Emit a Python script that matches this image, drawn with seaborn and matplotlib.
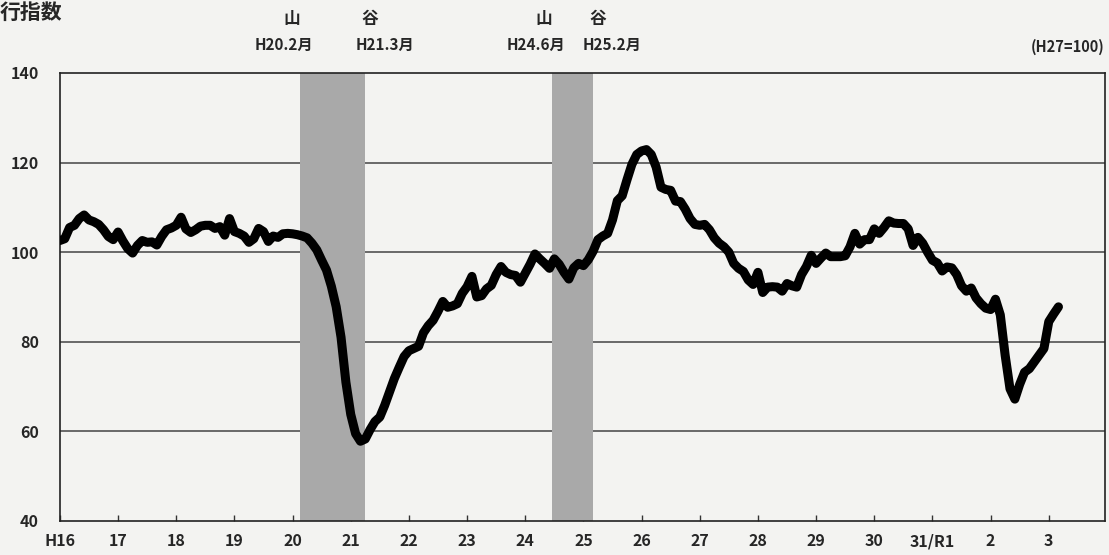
import numpy as np
import pandas as pd
import matplotlib
matplotlib.use("Agg")
from matplotlib import pyplot as plt
import seaborn as sns

# monthly leading index, H16.1 - R3.3 (H27=100)
h16 = [102.6, 103.0, 105.5, 106.0, 107.5, 108.3, 107.2, 106.8, 106.2, 105.0, 103.5, 102.8]
h17 = [104.5, 102.5, 100.8, 99.8, 101.5, 102.6, 102.2, 102.3, 101.6, 103.5, 105.0, 105.4]
h18 = [106.0, 107.8, 105.2, 104.4, 105.0, 105.8, 106.0, 106.0, 105.3, 105.7, 103.8, 107.5]
h19 = [104.6, 104.2, 103.6, 102.2, 103.0, 105.3, 104.6, 102.4, 103.6, 103.3, 104.1, 104.2]
h20 = [104.1, 103.9, 103.6, 103.2, 102.0, 100.5, 98.2, 96.0, 92.4, 87.8, 81.0, 71.0]
h21 = [63.8, 59.5, 57.8, 58.3, 60.4, 62.2, 63.2, 65.8, 68.8, 71.8, 74.3, 76.7]
h22 = [78.0, 78.5, 79.0, 82.0, 83.6, 84.8, 86.8, 89.0, 87.7, 88.0, 88.5, 90.8]
h23 = [92.3, 94.6, 90.0, 90.3, 91.8, 92.6, 95.0, 96.8, 95.5, 95.0, 94.8, 93.3]
h24 = [95.3, 97.3, 99.6, 98.5, 97.5, 96.4, 98.5, 97.3, 95.5, 94.0, 96.5, 97.5]
h25 = [97.0, 98.3, 100.2, 102.8, 103.6, 104.2, 107.2, 111.5, 112.6, 116.2, 119.6, 121.8]
h26 = [122.6, 122.9, 121.8, 119.0, 114.5, 114.0, 113.8, 111.4, 111.3, 109.6, 107.5, 106.2]
h27 = [106.0, 106.2, 105.0, 103.2, 102.0, 101.2, 100.0, 97.5, 96.4, 95.7, 93.8, 92.8]
h28 = [95.5, 91.0, 92.2, 92.3, 92.2, 91.3, 93.0, 92.5, 92.2, 95.0, 96.8, 99.3]
h29 = [97.5, 98.7, 99.8, 99.0, 99.0, 99.0, 99.2, 101.2, 104.2, 101.8, 102.8, 102.8]
h30 = [105.2, 104.2, 105.5, 107.0, 106.5, 106.4, 106.4, 105.2, 101.5, 103.3, 102.0, 100.0]
r1 = [98.2, 97.6, 95.8, 96.7, 96.5, 95.0, 92.5, 91.3, 92.0, 89.8, 88.5, 87.5]
r2 = [87.2, 89.5, 86.0, 77.0, 69.5, 67.2, 70.5, 73.2, 74.0, 75.5, 77.0, 78.5]
r3 = [84.5, 86.2, 87.8]

values = h16 + h17 + h18 + h19 + h20 + h21 + h22 + h23 + h24 + h25 + h26 + h27 + h28 + h29 + h30 + r1 + r2 + r3
df = pd.DataFrame({"month": np.arange(len(values)), "index": values})

year_labels = ["H16", "17", "18", "19", "20", "21", "22", "23", "24", "25",
               "26", "27", "28", "29", "30", "31/R1", "2", "3"]

# recessions: (peak month, trough month) as month offsets from H16.1
peaks = [49, 101]
troughs = [62, 109]
peak_labels = ["H20.2月", "H24.6月"]
trough_labels = ["H21.3月", "H25.2月"]

paper = "#f3f3f1"
sns.set_theme(style="white")
plt.rcParams["font.family"] = ["Noto Sans CJK JP", "DejaVu Sans"]
plt.rcParams["font.weight"] = "bold"

fig = plt.figure(figsize=(11.09, 5.55), dpi=100, facecolor=paper)
ax = fig.add_axes([0.054, 0.0613, 0.9424, 0.8072])
ax.set_facecolor(paper)

for g in [60, 80, 100, 120]:
    ax.axhline(g, color="#444444", lw=1.1, zorder=1)

for p, t in zip(peaks, troughs):
    ax.axvspan(p + 0.5, t + 1, color="#a9a9a9", lw=0, zorder=2)

sns.lineplot(data=df, x="month", y="index", ax=ax, color="black", lw=6.5,
             solid_joinstyle="round", solid_capstyle="round", zorder=3)

ax.set_xlim(0, 215.6)
ax.set_ylim(40, 140)
ax.set_xticks(np.arange(len(year_labels)) * 12)
ax.set_xticklabels(year_labels)
ax.set_yticks([40, 60, 80, 100, 120, 140])
ax.set_xlabel("")
ax.set_ylabel("")
ax.tick_params(axis="x", direction="in", length=4, width=1, color="#333333",
               bottom=True, pad=9, labelsize=11.5)
ax.tick_params(axis="y", length=0, pad=15, labelsize=11.5)
for s in ax.spines.values():
    s.set_color("#222222")
    s.set_linewidth(1.2)

# annotations above the bands
tr = ax.get_xaxis_transform()
for p, t, pl, tl in zip(peaks, troughs, peak_labels, trough_labels):
    ax.text(p - 1.2, 1.12, "山", transform=tr, ha="center", va="center",
            fontsize=12, fontweight="bold")
    ax.text(p - 2.8, 1.063, pl, transform=tr, ha="center", va="center", fontsize=11)
    ax.text(t + 2, 1.12, "谷", transform=tr, ha="center", va="center",
            fontsize=12, fontweight="bold")
    ax.text(t + 5, 1.063, tl, transform=tr, ha="center", va="center", fontsize=11)

fig.text(0.996, 0.915, "(H27=100)", ha="right", va="center", fontsize=10.5)
fig.text(0.0, 0.978, "行指数", ha="left", va="center", fontsize=15, fontweight="bold")

fig.savefig("out.png", dpi=100, facecolor=paper)
